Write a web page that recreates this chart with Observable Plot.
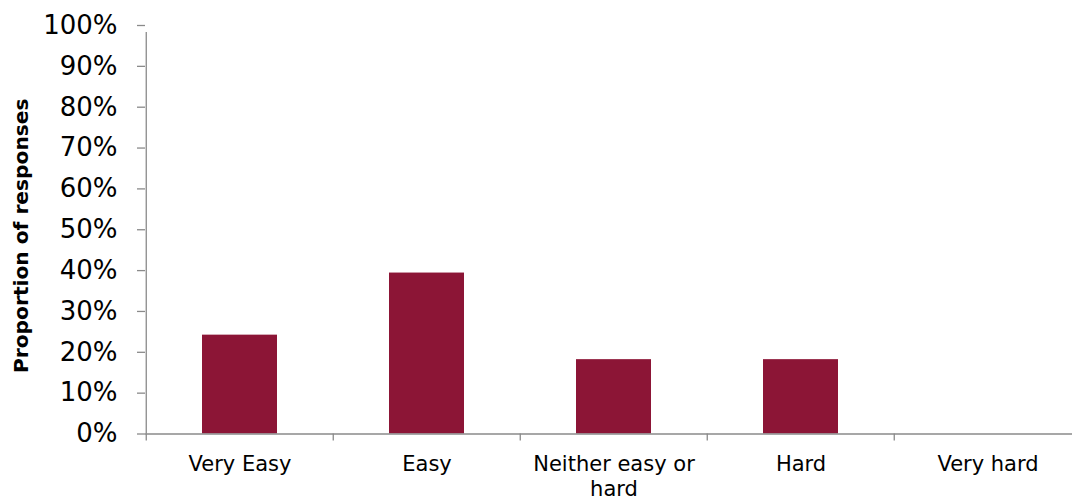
<!DOCTYPE html>
<html>
<head>
<meta charset="utf-8">
<script src="https://cdn.jsdelivr.net/npm/d3@7"></script>
<script src="https://cdn.jsdelivr.net/npm/@observablehq/plot@0.6"></script>
<style>
  html, body { margin: 0; padding: 0; background: #fff; }
  #chart svg { display: block; }
</style>
</head>
<body>
<div id="chart"></div>
<script>
const categories = ["Very Easy", "Easy", "Neither easy or hard", "Hard", "Very hard"];
const tickLabels = ["Very Easy", "Easy", "Neither easy or\nhard", "Hard", "Very hard"];
const values = [0.242, 0.394, 0.182, 0.182, 0];
const yTicks = [0, 0.1, 0.2, 0.3, 0.4, 0.5, 0.6, 0.7, 0.8, 0.9, 1.0];

const data = categories.map((c, i) => ({category: c, value: values[i]}));
const labelOf = new Map(categories.map((c, i) => [c, tickLabels[i]]));

const xRange = [145, 1082.5];
const step = (xRange[1] - xRange[0]) / categories.length;
const axisColor = "#8a8a8a";
const font = "DejaVu Sans, Verdana, sans-serif";

const chart = Plot.plot({
  width: 1072,
  height: 496,
  marginTop: 25,
  marginBottom: 62.5,
  marginLeft: 145,
  marginRight: 0,
  style: {fontFamily: font, background: "#fff", color: "#000"},
  x: {domain: categories, range: xRange, paddingInner: 0.6, paddingOuter: 0.3, axis: null, label: null},
  y: {domain: [0, 1], axis: null, label: null},
  marks: [
    Plot.barY(data, {x: "category", y: "value", fill: "#8c1536"}),
    // x axis labels
    Plot.axisX({
      tickSize: 0,
      tickPadding: 19,
      fontSize: 21,
      lineHeight: 1.19,
      fill: "#000",
      label: null,
      tickFormat: d => labelOf.get(d)
    }),
    // x boundary ticks (between categories)
    Plot.ruleX(categories, {x: d => d, y1: 0, y2: 0, insetBottom: -7, dx: -step / 2, stroke: axisColor, strokeWidth: 1.3}),
    // y axis
    Plot.axisY({
      ticks: yTicks,
      tickSize: 8,
      tickPadding: 20,
      fontSize: 26,
      fill: "#000",
      stroke: axisColor,
      strokeWidth: 1.3,
      label: null,
      tickFormat: d3.format(".0%")
    }),
    Plot.ruleX([categories[0]], {x: d => d, y1: 0, y2: 1, insetBottom: -7, dx: -step / 2, stroke: axisColor, strokeWidth: 1.3}),
    Plot.ruleY([0], {stroke: axisColor, strokeWidth: 1.3}),
    // y axis title
    Plot.text(["Proportion of responses"], {
      frameAnchor: "left",
      textAnchor: "middle",
      rotate: -90,
      dx: -124,
      dy: 6,
      fontSize: 20.2,
      fontWeight: "bold",
      fill: "#000"
    })
  ]
});

document.getElementById("chart").appendChild(chart);
</script>
</body>
</html>
